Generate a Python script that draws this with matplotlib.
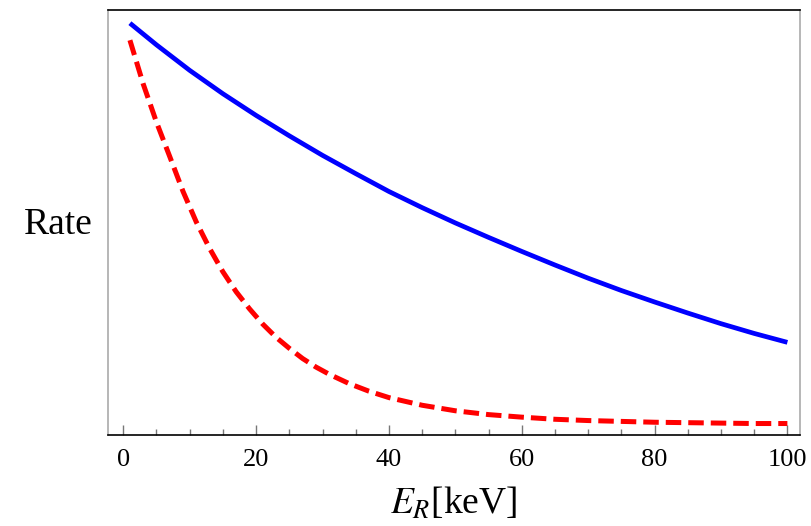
import matplotlib.pyplot as plt
from matplotlib.ticker import MultipleLocator, NullLocator

plt.rcParams['font.family'] = ['Liberation Serif', 'DejaVu Serif']
plt.rcParams['mathtext.fontset'] = 'stix'

# recoil energy [keV] and relative event rate (arbitrary units)
e_blue = [1, 5, 10, 15, 20, 25, 30, 35, 40, 45, 50, 55, 60, 65, 70, 75, 80, 85, 90, 95, 100]
rate_blue = [0.969, 0.918, 0.858, 0.803, 0.752, 0.704, 0.658, 0.615, 0.573, 0.535, 0.499,
             0.465, 0.432, 0.400, 0.369, 0.340, 0.313, 0.287, 0.262, 0.239, 0.218]

e_red = [1, 3, 5, 7, 9, 11, 13, 15, 17, 19, 21, 23, 25, 27, 29, 31, 34, 37, 40,
         45, 50, 55, 60, 65, 70, 75, 80, 85, 90, 95, 100]
rate_red = [0.929, 0.826, 0.736, 0.655, 0.573, 0.501, 0.439, 0.384, 0.337, 0.297, 0.261,
            0.230, 0.204, 0.180, 0.160, 0.143, 0.121, 0.103, 0.088, 0.070, 0.057, 0.048,
            0.042, 0.037, 0.034, 0.032, 0.030, 0.029, 0.028, 0.027, 0.027]

fig = plt.figure(figsize=(8.11, 5.26), dpi=100)
ax = fig.add_axes([108 / 811, 1 - 435 / 526, 692 / 811, 425 / 526])

ax.plot(e_blue, rate_blue, color='#0000ff', lw=3.4, solid_capstyle='butt',
        solid_joinstyle='round')
ax.plot(e_red, rate_red, color='#ff0000', lw=3.6, dashes=(3.1, 1.4), dash_capstyle='butt',
        dash_joinstyle='round')

ax.set_xlim(-2.3, 101.9)
ax.set_ylim(0, 1)

ax.xaxis.set_major_locator(MultipleLocator(20))
ax.xaxis.set_minor_locator(MultipleLocator(5))
ax.yaxis.set_major_locator(NullLocator())
ax.tick_params(axis='x', which='major', direction='in', length=7, width=1,
               color='#777777', labelsize=19, pad=10, top=False)
ax.tick_params(axis='x', which='minor', direction='in', length=4, width=1,
               color='#777777', top=False)

for side in ['left', 'right']:
    ax.spines[side].set_color('#aaaaaa')
    ax.spines[side].set_linewidth(1.2)
for side in ['top', 'bottom']:
    ax.spines[side].set_color('black')
    ax.spines[side].set_linewidth(1.2)

ax.set_xlabel(r'$E_R$[keV]', fontsize=27, labelpad=11)
fig.text(58 / 811, 1 - 225 / 526, 'Rate', fontsize=27, ha='center', va='center')

fig.savefig('out.png', dpi=100)
